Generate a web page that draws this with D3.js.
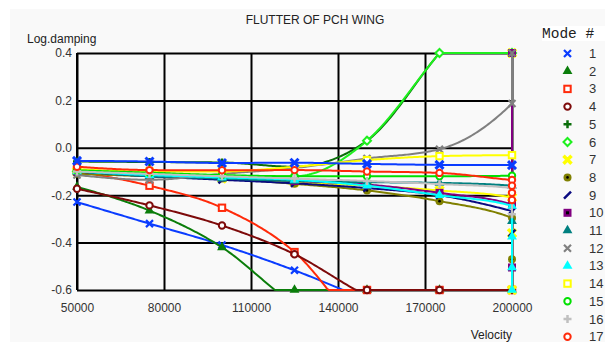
<!DOCTYPE html>
<html>
<head>
<meta charset="utf-8">
<script src="https://cdn.jsdelivr.net/npm/d3@7"></script>
<style>
  body { margin: 0; background: #fff; }
</style>
</head>
<body>
<svg id="chart" width="605" height="342"></svg>
<script>
// velocities (the last three lie past the axis end and get clamped onto it)
const velocity = [50000, 75000, 100000, 125000, 150000, 175000, 200000, 225000, 250000, 275000]
const xTicks = [50000, 80000, 110000, 140000, 170000, 200000]
const yTicks = [-0.6, -0.4, -0.2, 0.0, 0.2, 0.4]

// log. damping per mode
const mode1 = [-0.229, -0.32, -0.41, -0.517, -0.64, -0.75, -0.85]
const mode2 = [-0.165, -0.265, -0.42, -0.66, -0.8, -0.9, -1.0]
const mode3 = [-0.10, -0.16, -0.253, -0.44, -0.78, -0.9, -1.0]
const mode4 = [-0.173, -0.243, -0.328, -0.449, -0.625, -0.75, -0.8]
const mode5 = [-0.058, -0.06, -0.062, -0.08, 0.03, 0.4, 0.75]
const mode6 = [-0.10, -0.115, -0.12, -0.12, 0.03, 0.4, 0.75]
const mode7 = [-0.10, -0.11, -0.13, -0.145, -0.16, -0.18, -0.21, -0.36, -0.7, 0.6]
const mode8 = [-0.11, -0.12, -0.13, -0.152, -0.18, -0.225, -0.296, -0.47]
const mode9 = [-0.10, -0.12, -0.135, -0.15, -0.17, -0.20, -0.267, -0.36]
const mode10 = [-0.10, -0.11, -0.125, -0.14, -0.155, -0.19, -0.24, -0.505, 0.6]
const mode11 = [-0.10, -0.12, -0.13, -0.14, -0.145, -0.148, -0.16, -0.31]
const mode12 = [-0.115, -0.135, -0.11, -0.085, -0.045, -0.006, 0.187, 0.6]
const mode13 = [-0.10, -0.115, -0.125, -0.135, -0.16, -0.20, -0.245, -0.375, -0.505, -0.7]
const mode14 = [-0.09, -0.10, -0.10, -0.08, -0.052, -0.035, -0.031]
const mode15 = [-0.095, -0.105, -0.115, -0.12, -0.12, -0.12, -0.118]
const mode16 = [-0.10, -0.11, -0.12, -0.13, -0.14, -0.153, -0.17, -0.28]
const mode17 = [-0.08, -0.094, -0.095, -0.094, -0.10, -0.106, -0.136, -0.16, -0.19, -0.22]
const mode18 = [-0.055, -0.058, -0.064, -0.063, -0.068, -0.072, -0.073]
const damping = [mode1, mode2, mode3, mode4, mode5, mode6, mode7, mode8, mode9,
  mode10, mode11, mode12, mode13, mode14, mode15, mode16, mode17, mode18]

const modeColors = ["#0a3cff", "#0a7d0a", "#ff2a0a", "#7d0a0a", "#0a6e0a", "#1ef01e",
  "#ffff00", "#808000", "#0a0a80", "#800080", "#008080", "#808080",
  "#00ffff", "#ffff00", "#00e000", "#c0c0c0", "#ff2a0a", "#0a3cff"]
const modeMarkers = ["x", "tri", "sq", "circ", "plus", "dia", "bigx", "dot", "slash",
  "sqdot", "tri", "x", "tri", "sq", "circ", "plus", "circ", "boldx"]
// only the first 17 fit on the legend
const legendModes = 17

const W = 605, H = 342
const pL = 77, pR = 512, pT = 53, pB = 290
const SANS = "'Liberation Sans', Arial, sans-serif"

const svg = d3.select("#chart").style("font-family", SANS)
svg.append("rect").attr("x", 10).attr("y", 9).attr("width", W - 10).attr("height", H - 9).attr("fill", "#f9f9f9")

const x = d3.scaleLinear().domain([50000, 200000]).range([pL, pR])
const y = d3.scaleLinear().domain([-0.6, 0.4]).range([pB, pT])
const xc = x.copy().clamp(true), yc = y.copy().clamp(true)

// title + axis names
svg.append("text").attr("x", 315).attr("y", 24).attr("text-anchor", "middle")
  .attr("font-size", "12px").attr("fill", "#222").text("FLUTTER OF PCH WING")
svg.append("text").attr("x", 27).attr("y", 43).attr("font-size", "12px").attr("fill", "#222").text("Log.damping")
svg.append("text").attr("x", 512).attr("y", 339).attr("text-anchor", "end")
  .attr("font-size", "12px").attr("fill", "#222").text("Velocity")

// grid + ticks
const gy = svg.append("g").attr("transform", `translate(${pL},0)`)
  .call(d3.axisLeft(y).tickValues(yTicks).tickSize(-(pR - pL)).tickPadding(5).tickFormat(d => d.toFixed(1)))
const gx = svg.append("g").attr("transform", `translate(0,${pB})`)
  .call(d3.axisBottom(x).tickValues(xTicks).tickSize(-(pB - pT)).tickPadding(13).tickFormat(d => d))
for (const g of [gx, gy]) {
  g.attr("font-family", SANS)
  g.select(".domain").remove()
  g.selectAll(".tick line").attr("stroke", "#000").attr("stroke-width", 2)
  g.selectAll(".tick text").attr("font-size", "12px").attr("fill", "#333")
}
svg.append("line").attr("x1", pL).attr("x2", pL).attr("y1", pT).attr("y2", pB)
  .attr("stroke", "#000").attr("stroke-width", 2)

// a context that squeezes every drawn point into the plot box, like the original plotter does
function clampContext() {
  const p = d3.path()
  let cx = 0, cy = 0
  const cxy = (px, py) => [Math.max(pL, Math.min(pR, px)), Math.max(pT, Math.min(pB, py))]
  const put = (px, py) => p.lineTo(...cxy(px, py))
  return {
    moveTo(px, py) { cx = px; cy = py; p.moveTo(...cxy(px, py)) },
    lineTo(px, py) {
      for (let i = 1; i <= 40; i++) { const t = i / 40; put(cx + (px - cx) * t, cy + (py - cy) * t) }
      cx = px; cy = py
    },
    bezierCurveTo(x1, y1, x2, y2, px, py) {
      for (let i = 1; i <= 40; i++) {
        const t = i / 40, u = 1 - t
        put(u * u * u * cx + 3 * u * u * t * x1 + 3 * u * t * t * x2 + t * t * t * px,
            u * u * u * cy + 3 * u * u * t * y1 + 3 * u * t * t * y2 + t * t * t * py)
      }
      cx = px; cy = py
    },
    closePath() {},
    toString() { return p.toString() }
  }
}

function drawMarker(g, type, color) {
  if (type == "x" || type == "bigx" || type == "boldx") {
    const k = type == "x" ? 3.5 : 4
    g.append("path").attr("d", `M${-k},${-k}L${k},${k}M${-k},${k}L${k},${-k}`)
      .attr("stroke", color).attr("stroke-width", type == "x" ? 2.2 : type == "bigx" ? 3.5 : 3).attr("fill", "none")
  } else if (type == "tri") {
    g.append("path").attr("d", d3.symbol(d3.symbolTriangle, 42)()).attr("fill", color)
  } else if (type == "sq") {
    g.append("rect").attr("x", -3.2).attr("y", -3.2).attr("width", 6.4).attr("height", 6.4)
      .attr("fill", "#fff").attr("stroke", color).attr("stroke-width", 2)
  } else if (type == "circ") {
    g.append("circle").attr("r", 3.2).attr("fill", "#fff").attr("stroke", color).attr("stroke-width", 2)
  } else if (type == "plus") {
    g.append("path").attr("d", "M-4,0H4M0,-4V4").attr("stroke", color).attr("stroke-width", 2.5)
  } else if (type == "dia") {
    g.append("path").attr("d", "M0,-4L4,0L0,4L-4,0Z").attr("fill", "#fff").attr("stroke", color).attr("stroke-width", 2)
  } else if (type == "dot") {
    g.append("circle").attr("r", 4).attr("fill", color)
    g.append("circle").attr("r", 1.3).attr("fill", "#000")
  } else if (type == "slash") {
    g.append("path").attr("d", "M-3.5,3.5L3.5,-3.5").attr("stroke", color).attr("stroke-width", 2.5)
  } else if (type == "sqdot") {
    g.append("rect").attr("x", -4).attr("y", -4).attr("width", 8).attr("height", 8).attr("fill", color)
    g.append("rect").attr("x", -1.5).attr("y", -1.5).attr("width", 3).attr("height", 3).attr("fill", "#000")
  }
}

const line = d3.line().x(d => x(d[0])).y(d => y(d[1])).curve(d3.curveMonotoneX)
const plot = svg.append("g")

damping.forEach((vals, i) => {
  const pts = vals.map((v, j) => [velocity[j], v])
  const ctx = clampContext()
  line.context(ctx)(pts)
  plot.append("path").attr("d", ctx.toString()).attr("fill", "none")
    .attr("stroke", modeColors[i]).attr("stroke-width", 2).attr("stroke-linejoin", "round")
  pts.forEach(d => {
    drawMarker(plot.append("g").attr("transform", `translate(${xc(d[0])},${yc(d[1])})`), modeMarkers[i], modeColors[i])
  })
})

// legend
svg.append("rect").attr("x", 542).attr("y", 26).attr("width", W - 542).attr("height", 15).attr("fill", "#fff")
svg.append("text").attr("x", 542).attr("y", 38).attr("font-size", "14.5px").attr("fill", "#222")
  .style("font-family", "'Liberation Mono', 'Courier New', monospace").text("Mode #")
damping.slice(0, legendModes).forEach((vals, i) => {
  const ly = 53.5 + i * 17.7
  drawMarker(svg.append("g").attr("transform", `translate(567.5,${ly})`), modeMarkers[i], modeColors[i])
  svg.append("text").attr("x", 589).attr("y", ly + 4.5).attr("font-size", "13px").attr("fill", "#333").text(i + 1)
})
</script>
</body>
</html>
